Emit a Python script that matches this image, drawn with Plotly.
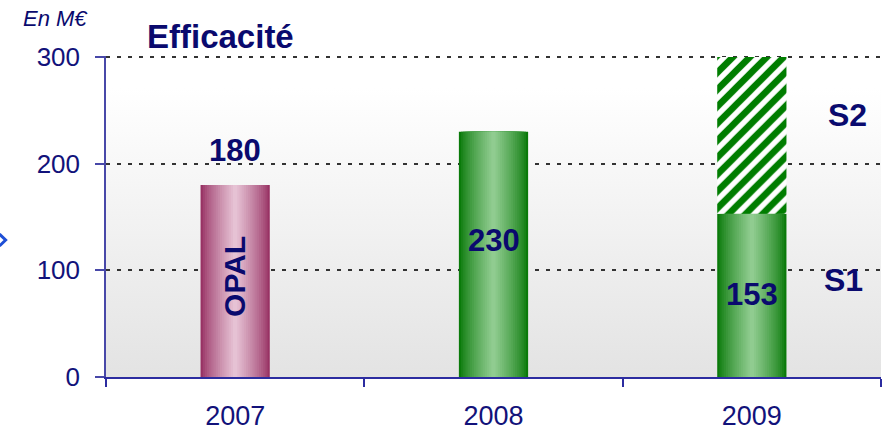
import base64
import plotly.graph_objects as go

# ---- data ----
categories = ["2007", "2008", "2009"]
opal_values = [180, None, None]
s1_values = [None, 230, 153]
s2_values = [None, None, 147]
total_values = [180, 230, 300]
y_ticks = [0, 100, 200, 300]

NAVY = "#0a0a6e"
TICK = "#12127a"
FONT = "Liberation Sans, Arial, sans-serif"
BAR_W = 0.268


def mix(c1, c2, t):
    a = [int(c1[i:i + 2], 16) for i in (1, 3, 5)]
    b = [int(c2[i:i + 2], 16) for i in (1, 3, 5)]
    return "#" + "".join(f"{round(x + (y - x) * t):02x}" for x, y in zip(a, b))


def cylinder(fig, y, base, edge, centre, n=16):
    for i in range(n):
        t = i / (n - 1)
        fig.add_trace(go.Bar(
            x=categories, y=y, base=base, width=BAR_W * (1 - i / n),
            marker=dict(color=mix(edge, centre, t ** 0.8), line=dict(width=0)),
            hoverinfo="skip", showlegend=False))


fig = go.Figure()
cylinder(fig, opal_values, None, "#983264", "#e6c2d4")
cylinder(fig, s1_values, None, "#0a7a0a", "#90cc90")

s1_base = [v if v is not None else 0 for v in s1_values]
fig.add_trace(go.Bar(
    x=categories, y=s2_values, base=s1_base, width=BAR_W,
    marker=dict(color="white", line=dict(width=0),
                pattern=dict(shape="/", fgcolor="#007d00", bgcolor="white",
                             fgopacity=1, size=12, solidity=0.55, fillmode="overlay")),
    hoverinfo="skip", showlegend=False))

# background gradient of plot area
svg = ('<svg xmlns="http://www.w3.org/2000/svg" width="10" height="100" viewBox="0 0 10 100" '
       'preserveAspectRatio="none"><defs><linearGradient id="g" x1="0" y1="0" x2="0" y2="1">'
       '<stop offset="0" stop-color="#ffffff"/><stop offset="0.1" stop-color="#ffffff"/>'
       '<stop offset="1" stop-color="#e3e3e3"/></linearGradient></defs>'
       '<rect width="10" height="100" fill="url(#g)"/></svg>')
uri = "data:image/svg+xml;base64," + base64.b64encode(svg.encode()).decode()
fig.add_layout_image(dict(source=uri, xref="paper", yref="paper", x=0, y=1,
                          sizex=1, sizey=1, sizing="stretch", layer="below",
                          xanchor="left", yanchor="top"))

i07, i08, i09 = (categories.index(c) for c in categories)
ann = []
# value labels
ann.append(dict(x=i07, y=212, text=f"<b>{total_values[0]}</b>"))
ann.append(dict(x=i08, y=128, text=f"<b>{total_values[1]}</b>"))
ann.append(dict(x=i09, y=77, text=f"<b>{s1_values[2]}</b>"))
ann.append(dict(x=i09, y=320, text=f"<b>{total_values[2]}</b>"))
for a in ann:
    a.update(xref="x", yref="y", showarrow=False, yanchor="middle",
             font=dict(family=FONT, size=31, color=NAVY))
ann.append(dict(x=i07, y=94, xref="x", yref="y", text="<b>OPAL</b>", textangle=-90,
                showarrow=False, yanchor="middle",
                font=dict(family=FONT, size=30, color=NAVY)))
ann.append(dict(x=2.372, y=246, xref="x", yref="y", text="<b>S2</b>",
                showarrow=False, yanchor="middle",
                font=dict(family=FONT, size=32, color=NAVY)))
ann.append(dict(x=2.353, y=91, xref="x", yref="y", text="<b>S1</b>",
                showarrow=False, yanchor="middle",
                font=dict(family=FONT, size=32, color=NAVY)))
ann.append(dict(x=0.050, y=1.062, xref="paper", yref="paper", xanchor="left",
                yanchor="middle", text="<b>Efficacité</b>", showarrow=False,
                font=dict(family=FONT, size=33, color=NAVY)))
ann.append(dict(x=-0.110, y=1.118, xref="paper", yref="paper", xanchor="left",
                yanchor="middle", text="<i>En M€</i>", showarrow=False,
                font=dict(family=FONT, size=22, color=NAVY)))

fig.update_layout(
    width=883, height=430,
    margin=dict(l=106, r=2, t=56, b=53),
    paper_bgcolor="white", plot_bgcolor="white",
    barmode="overlay", showlegend=False,
    annotations=ann,
    shapes=[dict(type="path", xref="paper", yref="paper",
                 path="M -0.1375 0.4455 L -0.1295 0.4268 L -0.1375 0.408",
                 line=dict(color="#1e4fd6", width=3))],
)
fig.update_xaxes(
    type="category", categoryorder="array", categoryarray=categories,
    range=[-0.5, 2.5], showgrid=False, zeroline=False, automargin=False,
    showline=True, linecolor="#2c2ca0", linewidth=2,
    ticks="outside", tickson="boundaries", ticklen=8, tickwidth=2, tickcolor="#2c2ca0",
    tickfont=dict(family=FONT, size=27, color=TICK), ticklabelstandoff=14,
)
fig.update_yaxes(
    range=[0, 301], tickvals=y_ticks, showgrid=True, gridcolor="#333333",
    gridwidth=2, griddash="4px,7px", zeroline=False, automargin=False,
    showline=True, linecolor="#4848a8", linewidth=1.5,
    ticks="outside", ticklen=9, tickwidth=1.5, tickcolor="#4848a8",
    tickfont=dict(family=FONT, size=26, color=TICK), ticklabelstandoff=10,
)

fig.write_html("out.html", config={"displayModeBar": False},
               post_script="document.body.style.margin='0';document.body.style.overflow='hidden';")
